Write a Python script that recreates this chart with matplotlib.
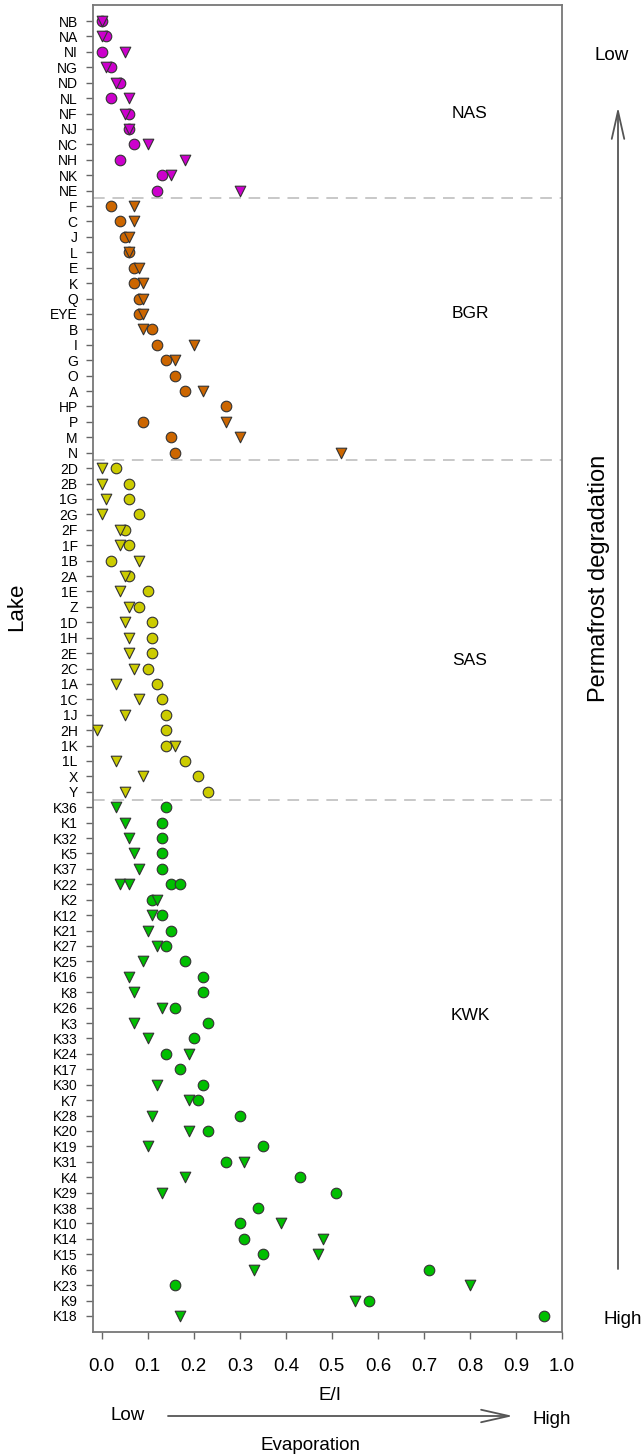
import matplotlib.pyplot as plt
import numpy as np

plt.rcParams['font.family'] = ['Liberation Sans', 'DejaVu Sans']

# ---------------- data (E/I per lake, circle and triangle series) ----------------
nas_lakes = ['NB', 'NA', 'NI', 'NG', 'ND', 'NL', 'NF', 'NJ', 'NC', 'NH', 'NK', 'NE']
nas_circle = [0.00, 0.01, 0.00, 0.02, 0.04, 0.02, 0.06, 0.06, 0.07, 0.04, 0.13, 0.12]
nas_triangle = [0.00, 0.00, 0.05, 0.01, 0.03, 0.06, 0.05, 0.06, 0.10, 0.18, 0.15, 0.30]

bgr_lakes = ['F', 'C', 'J', 'L', 'E', 'K', 'Q', 'EYE', 'B', 'I', 'G', 'O', 'A',
             'HP', 'P', 'M', 'N']
bgr_circle = [0.02, 0.04, 0.05, 0.06, 0.07, 0.07, 0.08, 0.08, 0.11, 0.12, 0.14,
              0.16, 0.18, 0.27, 0.09, 0.15, 0.16]
bgr_triangle = [0.07, 0.07, 0.06, 0.06, 0.08, 0.09, 0.09, 0.09, 0.09, 0.20, 0.16,
                np.nan, 0.22, np.nan, 0.27, 0.30, 0.52]

sas_lakes = ['2D', '2B', '1G', '2G', '2F', '1F', '1B', '2A', '1E', 'Z', '1D', '1H',
             '2E', '2C', '1A', '1C', '1J', '2H', '1K', '1L', 'X', 'Y']
sas_circle = [0.03, 0.06, 0.06, 0.08, 0.05, 0.06, 0.02, 0.06, 0.10, 0.08, 0.11,
              0.11, 0.11, 0.10, 0.12, 0.13, 0.14, 0.14, 0.14, 0.18, 0.21, 0.23]
sas_triangle = [0.00, 0.00, 0.01, 0.00, 0.04, 0.04, 0.08, 0.05, 0.04, 0.06, 0.05,
                0.06, 0.06, 0.07, 0.03, 0.08, 0.05, -0.01, 0.16, 0.03, 0.09, 0.05]

kwk_lakes = ['K36', 'K1', 'K32', 'K5', 'K37', 'K22', 'K2', 'K12', 'K21', 'K27',
             'K25', 'K16', 'K8', 'K26', 'K3', 'K33', 'K24', 'K17', 'K30', 'K7',
             'K28', 'K20', 'K19', 'K31', 'K4', 'K29', 'K38', 'K10', 'K14', 'K15',
             'K6', 'K23', 'K9', 'K18']
kwk_circle = [0.14, 0.13, 0.13, 0.13, 0.13, 0.15, 0.11, 0.13, 0.15, 0.14, 0.18,
              0.22, 0.22, 0.16, 0.23, 0.20, 0.14, 0.17, 0.22, 0.21, 0.30, 0.23,
              0.35, 0.27, 0.43, 0.51, 0.34, 0.30, 0.31, 0.35, 0.71, 0.16, 0.58, 0.96]
kwk_triangle = [0.03, 0.05, 0.06, 0.07, 0.08, 0.04, 0.12, 0.11, 0.10, 0.12, 0.09,
                0.06, 0.07, 0.13, 0.07, 0.10, 0.19, np.nan, 0.12, 0.19, 0.11, 0.19,
                0.10, 0.31, 0.18, 0.13, np.nan, 0.39, 0.48, 0.47, 0.33, 0.80, 0.55, 0.17]
# K22 has a second pair of measurements
kwk_extra_lakes = ['K22']
kwk_extra_circle = [0.17]
kwk_extra_triangle = [0.06]

groups = ['NAS', 'BGR', 'SAS', 'KWK']
group_colors = ['#CC00CC', '#CC6600', '#CCCC00', '#00BF00']
group_label_rows = [6, 19, 41.5, 64.5]

# ---------------- figure ----------------
W, H = 644, 1456
fig = plt.figure(figsize=(W / 100, H / 100), dpi=100)


def fx(px):
    return px / W


def fy(py):
    return 1 - py / H


ax = fig.add_axes([fx(93), fy(1332), fx(562) - fx(93), fy(5) - fy(1332)])

all_lakes = nas_lakes + bgr_lakes + sas_lakes + kwk_lakes
rows = {lake: i for i, lake in enumerate(all_lakes)}

sets = [(nas_lakes, nas_circle, nas_triangle),
        (bgr_lakes, bgr_circle, bgr_triangle),
        (sas_lakes, sas_circle, sas_triangle),
        (kwk_lakes, kwk_circle, kwk_triangle)]

for (lakes, circ, tri), col in zip(sets, group_colors):
    y = [rows[l] for l in lakes]
    ax.scatter(circ, y, s=58, marker='o', facecolor=col, edgecolor='#333333',
               linewidth=0.8, zorder=3)
    ax.scatter(tri, y, s=58, marker='v', facecolor=col, edgecolor='#333333',
               linewidth=0.8, zorder=4)

y_extra = [rows[l] for l in kwk_extra_lakes]
ax.scatter(kwk_extra_circle, y_extra, s=58, marker='o', facecolor=group_colors[3],
           edgecolor='#333333', linewidth=0.8, zorder=3)
ax.scatter(kwk_extra_triangle, y_extra, s=58, marker='v', facecolor=group_colors[3],
           edgecolor='#333333', linewidth=0.8, zorder=4)

# group separators
bounds = np.cumsum([len(nas_lakes), len(bgr_lakes), len(sas_lakes)]) - 0.5
for b in bounds:
    ax.axhline(b, color='#c8c8c8', lw=1.4, ls=(0, (6, 4)), zorder=1)

for name, r in zip(groups, group_label_rows):
    ax.text(0.80, r, name, ha='center', va='center', fontsize=12.5)

ax.set_xlim(-0.019, 1.0)
ax.set_ylim(len(all_lakes) + 0.04, -1.04)
ax.set_yticks(range(len(all_lakes)))
ax.set_yticklabels(all_lakes, fontsize=10)
ax.set_xticks(np.arange(0, 1.01, 0.1))
ax.set_xticklabels(['%.1f' % v for v in np.arange(0, 1.01, 0.1)], fontsize=13.5)
ax.tick_params(axis='y', length=5, width=1, color='#666666', pad=6)
ax.tick_params(axis='x', length=5, width=1, color='#666666', pad=14)
for sp in ax.spines.values():
    sp.set_color('#777777')
    sp.set_linewidth(1.3)

# outside labels
fig.text(fx(17), fy(607), 'Lake', rotation=90, ha='center', va='center', fontsize=16)
fig.text(fx(330), fy(1395), 'E/I', ha='center', va='center', fontsize=13.5)
fig.text(fx(128), fy(1416), 'Low', ha='center', va='center', fontsize=13.5)
fig.text(fx(552), fy(1419), 'High', ha='center', va='center', fontsize=13.5)
fig.text(fx(310), fy(1445), 'Evaporation', ha='center', va='center', fontsize=13.5)
fig.text(fx(612), fy(55), 'Low', ha='center', va='center', fontsize=13.5)
fig.text(fx(623), fy(1320), 'High', ha='center', va='center', fontsize=13.5)
fig.text(fx(599), fy(578), 'Permafrost degradation', rotation=90,
         ha='center', va='center', fontsize=17)

arrow = dict(arrowstyle='->,head_length=2.0,head_width=0.45', mutation_scale=10,
             lw=1.3, color='#555555', shrinkA=0, shrinkB=0)
fig.add_artist(plt.Annotation('', xy=(fx(513), fy(1416)), xytext=(fx(168), fy(1416)),
                              xycoords='figure fraction', textcoords='figure fraction',
                              arrowprops=arrow))
fig.add_artist(plt.Annotation('', xy=(fx(618), fy(107)), xytext=(fx(618), fy(1269)),
                              xycoords='figure fraction', textcoords='figure fraction',
                              arrowprops=arrow))

fig.savefig('out.png', dpi=100)
